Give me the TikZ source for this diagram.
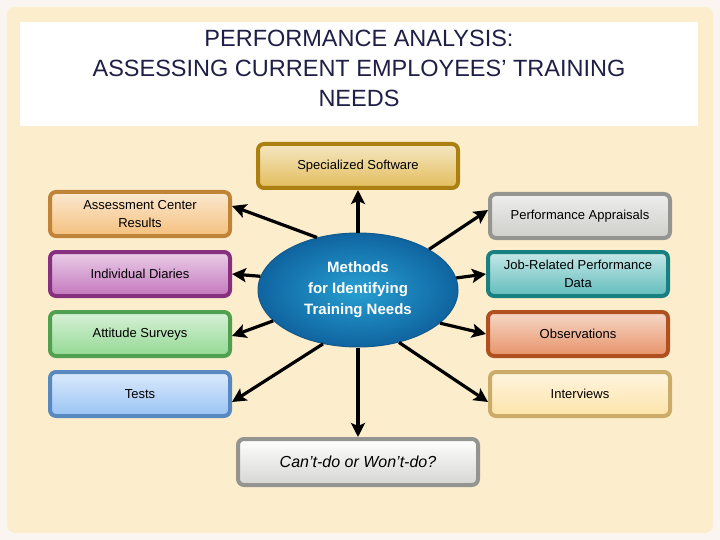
\documentclass[tikz,border=0pt]{standalone}
\usepackage{fontspec}
\setmainfont{Liberation Sans}
\usetikzlibrary{arrows.meta,shapes.geometric}
\begin{document}
\begin{tikzpicture}[x=1pt,y=-1pt,
  box/.style={draw=#1!80!black, line width=4pt, rounded corners=6pt, minimum width=180pt, minimum height=44pt, inner sep=2pt, align=center, font=\fontsize{13}{18}\selectfont, top color=#1!25!white, bottom color=#1!70!white, text=black},
  arr/.style={line width=3.2pt, -{Stealth[length=14pt,width=14pt,inset=3pt]}}]
\useasboundingbox (0,0) rectangle (720,540);
\fill[white!92!brown] (0,0) rectangle (720,540);
\fill[rounded corners=8pt, fill={rgb,255:red,252;green,238;blue,205}] (7,7) rectangle (713,533);
\fill[white] (20,22) rectangle (698,126);
\node[font=\fontsize{23.5}{30}\selectfont, text={rgb,255:red,30;green,30;blue,70}, align=center] (title) at (359,68) {PERFORMANCE ANALYSIS:\\ASSESSING CURRENT EMPLOYEES’ TRAINING\\NEEDS};
\colorlet{gold}{rgb,255:red,215;green,160;blue,20}
\colorlet{org}{rgb,255:red,240;green,165;blue,70}
\colorlet{pur}{rgb,255:red,170;green,60;blue,160}
\colorlet{grn}{rgb,255:red,100;green,200;blue,100}
\colorlet{blu}{rgb,255:red,110;green,170;blue,240}
\colorlet{gry}{rgb,255:red,185;green,185;blue,180}
\colorlet{tea}{rgb,255:red,30;green,160;blue,160}
\colorlet{dorg}{rgb,255:red,220;green,100;blue,40}
\colorlet{ylw}{rgb,255:red,252;green,215;blue,130}
\node[box=gold, minimum width=200pt] (ss) at (358,166) {Specialized Software};
\node[box=org] (ac) at (140,214) {Assessment Center\\Results};
\node[box=pur] (id) at (140,274) {Individual Diaries};
\node[box=grn] (as) at (140,334) {Attitude Surveys};
\node[box=blu] (te) at (140,394) {Tests};
\node[box=gry] (pa) at (580,216) {Performance Appraisals};
\node[box=tea] (jr) at (578,274) {Job-Related Performance\\Data};
\node[box=dorg] (ob) at (578,334) {Observations};
\node[box=ylw] (iv) at (580,394) {Interviews};
\node[box=gry, minimum width=240pt, minimum height=46pt, font=\fontsize{16}{18}\selectfont\itshape, top color=white, bottom color=gry!60!white] (cd) at (358,462) {Can’t-do or Won’t-do?};
\node[ellipse, draw={rgb,255:red,20;green,90;blue,140}, line width=1pt, minimum width=200pt, minimum height=114pt, inner sep=0pt, inner color={rgb,255:red,40;green,160;blue,210}, outer color={rgb,255:red,15;green,100;blue,160}, text=white, font=\bfseries\fontsize{15}{21}\selectfont, align=center] (c) at (358,290) {Methods\\for Identifying\\Training Needs};
\draw[arr] (c.north) -- (ss.south);
\draw[arr] (c.128) -- ([yshift=8pt]ac.east);
\draw[arr] (c.172) -- (id.east);
\draw[arr] (c.200) -- ([yshift=-2pt]as.east);
\draw[arr] (c.237) -- ([yshift=-8pt]te.east);
\draw[arr] (c.north east) -- ([yshift=6pt]pa.west);
\draw[arr] (c.7) -- (jr.west);
\draw[arr] (c.-22) -- (ob.west);
\draw[arr] (c.-52) -- ([yshift=-8pt]iv.west);
\draw[arr] (c.south) -- (cd.north);
\end{tikzpicture}
\end{document}
